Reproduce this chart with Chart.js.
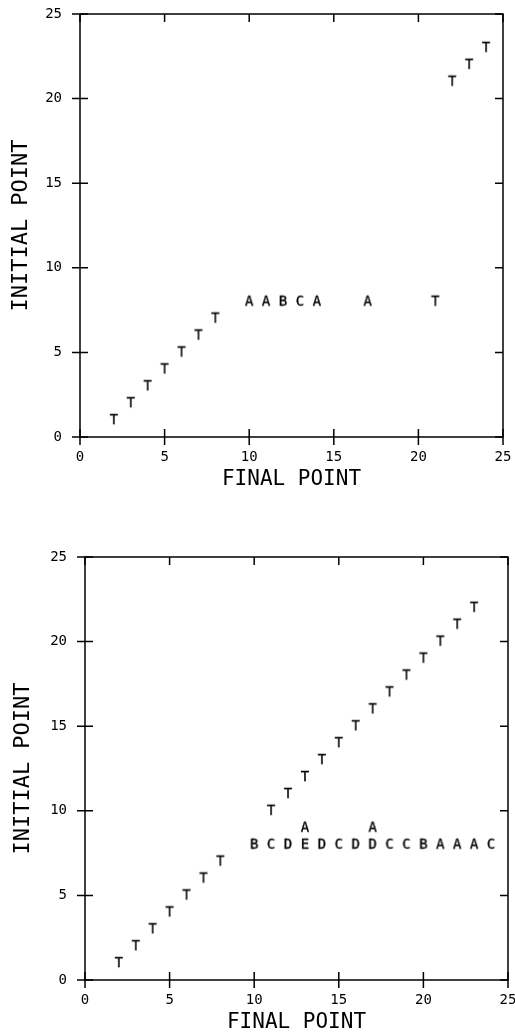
<!DOCTYPE html>
<html>
<head>
<meta charset="utf-8">
<script src="https://cdn.jsdelivr.net/npm/chart.js@4/dist/chart.umd.min.js"></script>
<style>
  html, body { margin: 0; padding: 0; background: #fff; }
  #wrap { position: relative; width: 515px; height: 1036px; }
  .box { position: absolute; left: 0; width: 515px; }
</style>
</head>
<body>
<div id="wrap">
  <div class="box" style="top:0;height:500px"><canvas id="chart-top"></canvas></div>
  <div class="box" style="top:500px;height:536px"><canvas id="chart-bottom"></canvas></div>
</div>
<script>
// axis ticks (both panels)
var xTicks = [0, 5, 10, 15, 20, 25];
var yTicks = [0, 5, 10, 15, 20, 25];

// upper panel: final point, initial point, plotted symbol
var topX    = [2, 3, 4, 5, 6, 7, 8, 10, 11, 12, 13, 14, 17, 21, 22, 23, 24];
var topY    = [1, 2, 3, 4, 5, 6, 7, 8, 8, 8, 8, 8, 8, 8, 21, 22, 23];
var topMark = ['T','T','T','T','T','T','T','A','A','B','C','A','A','T','T','T','T'];

// lower panel
var botX    = [2, 3, 4, 5, 6, 7, 8,
               11, 12, 13, 14, 15, 16, 17, 18, 19, 20, 21, 22, 23,
               10, 11, 12, 13, 14, 15, 16, 17, 18, 19, 20, 21, 22, 23, 24,
               13, 17];
var botY    = [1, 2, 3, 4, 5, 6, 7,
               10, 11, 12, 13, 14, 15, 16, 17, 18, 19, 20, 21, 22,
               8, 8, 8, 8, 8, 8, 8, 8, 8, 8, 8, 8, 8, 8, 8,
               9, 9];
var botMark = ['T','T','T','T','T','T','T',
               'T','T','T','T','T','T','T','T','T','T','T','T','T',
               'B','C','D','E','D','C','D','D','C','C','B','A','A','A','C',
               'A','A'];

var MONO = '"DejaVu Sans Mono", monospace';

// letter glyphs used as point styles
var glyphCache = {};
function glyph(ch) {
  if (glyphCache[ch]) return glyphCache[ch];
  var c = document.createElement('canvas');
  c.width = 14; c.height = 16;
  var g = c.getContext('2d');
  g.fillStyle = '#000';
  g.strokeStyle = '#000';
  g.lineWidth = 0.35;
  g.font = '14px ' + MONO;
  g.textAlign = 'center';
  g.textBaseline = 'middle';
  g.fillText(ch, 7, 8.5);
  g.strokeText(ch, 7, 8.5);
  glyphCache[ch] = c;
  return c;
}

// frame with crossing ticks on left/bottom, inward ticks on top/right
var framePlugin = {
  id: 'frame',
  afterDraw: function(chart) {
    var ctx = chart.ctx, a = chart.chartArea;
    var xs = chart.scales.x, ys = chart.scales.y;
    ctx.save();
    ctx.strokeStyle = '#000';
    ctx.lineWidth = 1.5;
    ctx.strokeRect(a.left, a.top, a.right - a.left, a.bottom - a.top);
    ctx.beginPath();
    xTicks.forEach(function(v) {
      var px = xs.getPixelForValue(v);
      ctx.moveTo(px, a.bottom - 8); ctx.lineTo(px, a.bottom + 8);
      ctx.moveTo(px, a.top); ctx.lineTo(px, a.top + 8);
    });
    yTicks.forEach(function(v) {
      var py = ys.getPixelForValue(v);
      ctx.moveTo(a.left - 8, py); ctx.lineTo(a.left + 8, py);
      ctx.moveTo(a.right - 8, py); ctx.lineTo(a.right, py);
    });
    ctx.stroke();
    ctx.restore();
  }
};

function makeChart(id, xs, ys, marks, opt) {
  var pts = xs.map(function(x, i) { return {x: x, y: ys[i]}; });
  return new Chart(document.getElementById(id), {
    type: 'scatter',
    data: {
      datasets: [{
        data: pts,
        pointStyle: marks.map(glyph),
        pointRadius: 6,
        pointHoverRadius: 6
      }]
    },
    options: {
      responsive: true,
      maintainAspectRatio: false,
      animation: false,
      events: [],
      layout: { padding: { top: opt.top, right: opt.right, left: 0, bottom: 0 } },
      plugins: { legend: { display: false }, tooltip: { enabled: false } },
      scales: {
        x: {
          type: 'linear', min: 0, max: 25,
          afterBuildTicks: function(s) { s.ticks = xTicks.map(function(v) { return {value: v}; }); },
          afterFit: function(s) { s.height = opt.xHeight; s.paddingLeft = 0; s.paddingRight = 0; },
          grid: { display: false, drawTicks: false },
          border: { display: false },
          ticks: { color: '#000', padding: opt.xPad, maxRotation: 0, font: { family: MONO, size: 14 } },
          title: { display: true, text: 'FINAL POINT', color: '#000',
                   padding: { top: 0, bottom: opt.xTitlePad },
                   font: { family: MONO, size: 21 } }
        },
        y: {
          type: 'linear', min: 0, max: 25,
          afterBuildTicks: function(s) { s.ticks = yTicks.map(function(v) { return {value: v}; }); },
          afterFit: function(s) { s.width = opt.yWidth; s.paddingTop = 0; s.paddingBottom = 0; },
          grid: { display: false, drawTicks: false },
          border: { display: false },
          ticks: { color: '#000', padding: 18, font: { family: MONO, size: 14 } },
          title: { display: true, text: 'INITIAL POINT', color: '#000',
                   padding: { top: opt.yTitlePad, bottom: 0 },
                   font: { family: MONO, size: 22 } }
        }
      }
    },
    plugins: [framePlugin]
  });
}

makeChart('chart-top', topX, topY, topMark,
  { top: 14, right: 12, xHeight: 63, yWidth: 80, xPad: 12, xTitlePad: 8, yTitlePad: 8 });
makeChart('chart-bottom', botX, botY, botMark,
  { top: 57, right: 7, xHeight: 56, yWidth: 85, xPad: 12, xTitlePad: 1, yTitlePad: 10 });
</script>
</body>
</html>
